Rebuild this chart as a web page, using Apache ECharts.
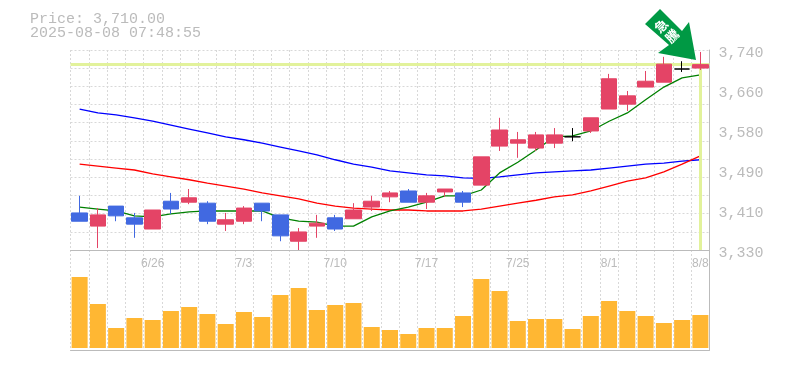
<!DOCTYPE html>
<html><head><meta charset="utf-8">
<style>html,body{margin:0;padding:0;background:#fff}#c{width:785px;height:370px}</style>
<script src="https://cdn.jsdelivr.net/npm/echarts@6/dist/echarts.min.js"></script>
</head><body><div id="c"></div>
<script>
const dates = ['6/20','6/23','6/24','6/25','6/26','6/27','6/30','7/1','7/2','7/3','7/4','7/7','7/8','7/9','7/10','7/11','7/14','7/15','7/16','7/17','7/18','7/22','7/23','7/24','7/25','7/28','7/29','7/30','7/31','8/1','8/4','8/5','8/6','8/7','8/8'];
const dateLabels = ['6/26','7/3','7/10','7/17','7/25','8/1','8/8'];
const priceTicks = [3330,3412,3494,3576,3658,3740];
// [open, close, low, high]
const candles = [
[3406,3389,3389,3441],[3379,3402,3334,3416],[3420,3400,3389,3420],[3396,3383,3355,3406],[3373,3412,3373,3412],
[3430,3414,3404,3447],[3428,3437,3424,3455],[3426,3389,3383,3430],[3383,3392,3369,3406],[3389,3416,3383,3420],
[3426,3410,3389,3426],[3402,3359,3348,3402],[3348,3367,3330,3375],[3379,3385,3355,3402],[3396,3373,3369,3402],
[3394,3412,3394,3426],[3418,3430,3410,3441],[3439,3447,3428,3451],[3451,3428,3428,3455],[3428,3441,3414,3447],
[3449,3455,3439,3455],[3447,3428,3418,3451],[3463,3521,3463,3521],[3543,3576,3533,3601],[3549,3556,3519,3572],
[3539,3566,3533,3572],[3549,3566,3539,3580],[3562,3562,3553,3580],[3574,3601,3570,3601],[3619,3681,3619,3691],
[3629,3646,3615,3656],[3664,3676,3664,3697],[3674,3711,3674,3726],[3701,3701,3695,3717],[3703,3710,3699,3736]];
const maShort = [3418,3414,3410,3400,3398,3404,3408,3410,3410,3410,3410,3396,3389,3387,3379,3379,3398,3410,3418,3428,3441,3441,3453,3488,3510,3535,3562,3564,3574,3594,3611,3638,3664,3683,3689];
const maMid = [3506,3502,3498,3494,3486,3480,3474,3467,3461,3455,3447,3441,3435,3426,3420,3416,3414,3412,3412,3410,3410,3410,3414,3420,3426,3432,3439,3443,3451,3461,3471,3478,3490,3506,3523];
const maLong = [3619,3611,3607,3601,3594,3586,3578,3570,3562,3556,3549,3541,3533,3525,3515,3506,3500,3492,3488,3484,3482,3478,3477,3480,3484,3488,3490,3492,3494,3498,3502,3506,3508,3512,3515];
const volumes = [213,132,60,90,84,111,123,102,72,108,93,159,180,114,129,135,63,54,42,60,60,96,207,171,81,87,87,57,96,141,111,96,75,84,99];
const currentPrice = 3710;
const priceTitle = 'Price: 3,710.00';
const timeTitle = '2025-08-08 07:48:55';
const arrowChars = ['急','騰'];

const mono = '"Liberation Mono", monospace';
const grey = '#bbbbbb', dash = '#d8d8d8';
const gridLine = {show:true, lineStyle:{color:dash, type:[2,2], width:1}};
const maLine = (name,data,color)=>({name,type:'line',data,xAxisIndex:0,yAxisIndex:0,symbol:'none',smooth:false,z:4,
  lineStyle:{color,width:1.3},silent:true,animation:false});

const chart = echarts.init(document.getElementById('c'),null,{renderer:'canvas'});
chart.setOption({
  animation:false,
  backgroundColor:'#fff',
  grid:[{left:70.5,top:50,width:639,height:200},{left:70.5,top:250,width:639,height:100}],
  xAxis:[
    {type:'category',gridIndex:0,data:dates,boundaryGap:true,
     axisLine:{show:true,onZero:false,lineStyle:{color:grey,width:1}},axisTick:{show:false},
     splitLine:{...gridLine,interval:0},
     axisLabel:{color:grey,fontFamily:'"Liberation Sans"',fontSize:12,margin:8,
       interval:(i,v)=>dateLabels.includes(v)}},
    {type:'category',gridIndex:1,data:dates,boundaryGap:true,
     axisLine:{show:true,onZero:false,lineStyle:{color:grey,width:1}},axisTick:{show:false},
     splitLine:{...gridLine,interval:0},axisLabel:{show:false}}
  ],
  yAxis:[
    {type:'value',gridIndex:0,position:'right',min:3330,max:3740,scale:true,
     axisLine:{show:true,onZero:false,lineStyle:{color:grey,width:1}},axisTick:{show:false},splitLine:{show:false},
     axisLabel:{color:grey,fontFamily:mono,fontSize:15,margin:9,customValues:priceTicks,showMinLabel:true,showMaxLabel:true,
       verticalAlign:'top',padding:[-4,0,0,0],
       formatter:v=>(Math.round(v/10)*10).toLocaleString('en-US')}},
    {type:'value',gridIndex:0,position:'left',min:0,max:11,interval:1,
     axisLine:{show:false},axisTick:{show:false},axisLabel:{show:false},splitLine:gridLine},
    {type:'value',gridIndex:1,position:'right',min:-6,max:294,
     axisLine:{show:true,onZero:false,lineStyle:{color:grey,width:1}},axisTick:{show:false},axisLabel:{show:false},splitLine:{show:false}}
  ],
  series:[
    {name:'current',type:'line',data:[],xAxisIndex:0,yAxisIndex:0,z:1,silent:true,
     markLine:{silent:true,symbol:'none',animation:false,label:{show:false},
       lineStyle:{color:'#e2f29b',width:3,type:'solid',opacity:1},
       data:[{yAxis:currentPrice},
             [{coord:[dates[dates.length-1],currentPrice]},{coord:[dates[dates.length-1],3330]}]]}},
    maLine('maLong',maLong,'#0000ff'),
    maLine('maMid',maMid,'#ff0000'),
    maLine('maShort',maShort,'#008000'),
    {name:'price',type:'candlestick',xAxisIndex:0,yAxisIndex:0,data:candles,barWidth:16,z:5,silent:true,
     itemStyle:{color:'#e44466',color0:'#4169e1',borderColor:'#e44466',borderColor0:'#4169e1',borderColorDoji:'#000000',borderWidth:1}},
    {name:'volume',type:'bar',xAxisIndex:1,yAxisIndex:2,data:volumes,barWidth:16,silent:true,
     itemStyle:{color:'#ffb733'}}
  ],
  graphic:[
    {type:'text',left:30,top:12,silent:true,style:{text:priceTitle,fill:grey,font:'15px '+mono}},
    {type:'text',left:30,top:26,silent:true,style:{text:timeTitle,fill:grey,font:'15px '+mono}},
    {type:'polygon',silent:true,z:20,shape:{points:[[660,9],[682,31],[689,22],[696,60],[658,53],[669,45],[645,24]]},style:{fill:'#009944'}},
    {type:'text',silent:true,z:21,x:661,y:26,rotation:Math.PI/4,style:{text:arrowChars[0],fill:'#ffffff',font:'bold 13px "Noto Sans CJK JP"',align:'center',verticalAlign:'middle'}},
    {type:'text',silent:true,z:21,x:672,y:36,rotation:Math.PI/4,style:{text:arrowChars[1],fill:'#ffffff',font:'bold 13px "Noto Sans CJK JP"',align:'center',verticalAlign:'middle'}}
  ]
});
</script></body></html>
